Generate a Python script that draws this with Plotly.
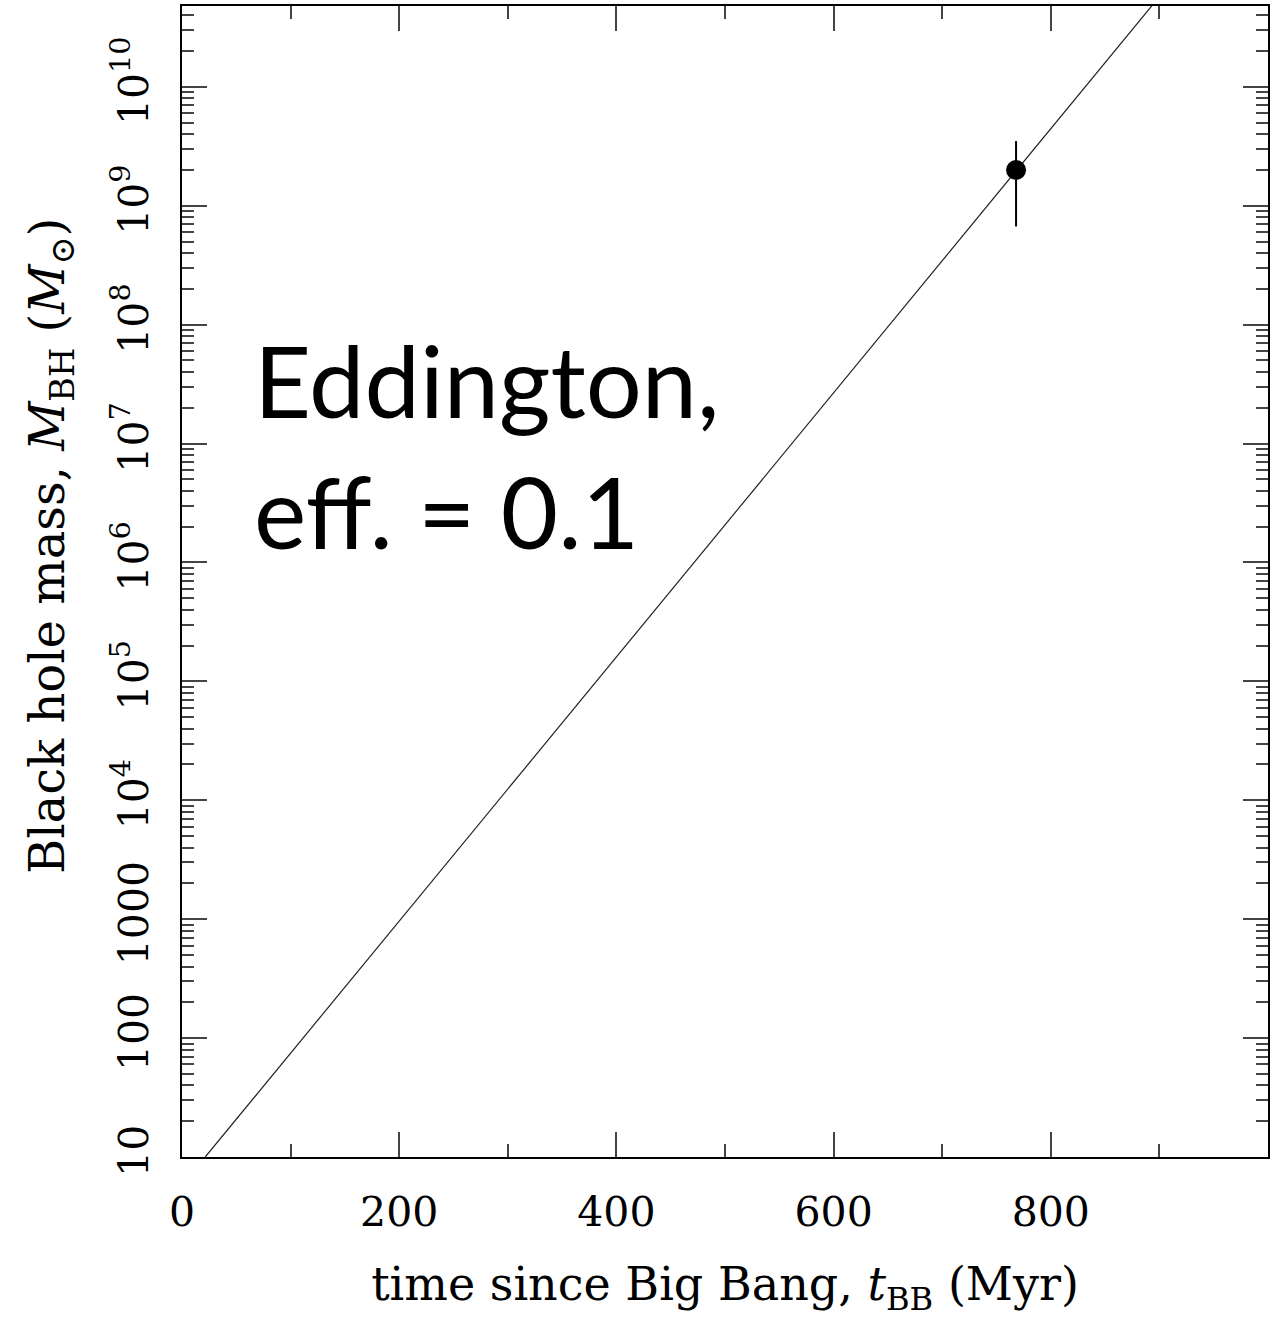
import plotly.graph_objects as go

# Data
t_line = [21.4, 893.0]          # Myr
m_line = [10.0, 4.8e10]         # solar masses
t_obs = [768.0]
m_obs = [2.0e9]
m_err_plus = [1.5e9]
m_err_minus = [1.33e9]

x_ticks = [0, 200, 400, 600, 800]
y_tickvals = [10, 100, 1000, 1e4, 1e5, 1e6, 1e7, 1e8, 1e9, 1e10]
y_ticktext = ["10", "100", "1000", "10<sup>4</sup>", "10<sup>5</sup>", "10<sup>6</sup>",
              "10<sup>7</sup>", "10<sup>8</sup>", "10<sup>9</sup>", "10<sup>10</sup>"]

label_line1 = "Eddington,"
label_line2 = "eff. = 0.1"
x_title = "time since Big Bang, <i>t</i><sub>BB</sub> (Myr)"
y_title = "Black hole mass, <i>M</i><sub>BH</sub> (<i>M</i><sub>⊙</sub>)"

serif = "DejaVu Serif, Liberation Serif, serif"

fig = go.Figure()
fig.add_trace(go.Scatter(x=t_line, y=m_line, mode="lines",
                         line=dict(color="#222222", width=1.2), showlegend=False))
fig.add_trace(go.Scatter(x=t_obs, y=m_obs, mode="markers",
                         marker=dict(color="black", size=20),
                         error_y=dict(type="data", symmetric=False, array=m_err_plus,
                                      arrayminus=m_err_minus, width=0, thickness=2,
                                      color="black"),
                         showlegend=False))

fig.update_layout(
    width=1278, height=1321,
    margin=dict(l=182, r=10, t=4, b=164),
    paper_bgcolor="white", plot_bgcolor="white",
    font=dict(family=serif, color="black"),
    xaxis=dict(range=[0, 1000], tickvals=x_ticks, ticks="inside", ticklen=25, tickwidth=2,
               showline=True, linewidth=2, linecolor="black", mirror="allticks",
               showgrid=False, zeroline=False,
               tickfont=dict(size=41, family=serif), ticklabelstandoff=18,
               minor=dict(ticks="inside", ticklen=13, tickwidth=2, dtick=100, showgrid=False),
               title=dict(text=x_title, font=dict(size=46, family=serif), standoff=33)),
    yaxis=dict(type="log", range=[1, 10.68], tickvals=y_tickvals, ticktext=y_ticktext,
               ticks="inside", ticklen=25, tickwidth=2, tickangle=-90,
               showline=True, linewidth=2, linecolor="black", mirror="allticks",
               showgrid=False, zeroline=False,
               tickfont=dict(size=41, family=serif), ticklabelstandoff=16,
               minor=dict(ticks="inside", ticklen=12, tickwidth=2, dtick="D1", showgrid=False)),
)

fig.add_annotation(x=(50 - 182) / 1086, y=(1157 - 545) / 1153, xref="paper", yref="paper",
                   text=y_title, textangle=-90, showarrow=False,
                   xanchor="center", yanchor="middle",
                   font=dict(size=48, family=serif, color="black"))

fig.add_annotation(x=64.7, y=(1157 - 378) / 1153, xref="x", yref="paper",
                   text=label_line1, showarrow=False, xanchor="left", yanchor="middle",
                   font=dict(size=99, family="Lato, sans-serif", color="black"))
fig.add_annotation(x=64.7, y=(1157 - 509) / 1153, xref="x", yref="paper",
                   text=label_line2, showarrow=False, xanchor="left", yanchor="middle",
                   font=dict(size=99, family="Lato, sans-serif", color="black"))

fig.write_html("out.html")
